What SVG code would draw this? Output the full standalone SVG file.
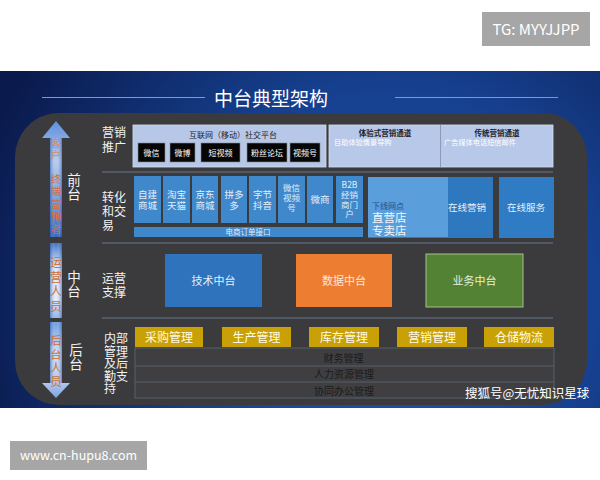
<svg xmlns="http://www.w3.org/2000/svg" width="600" height="480" viewBox="0 0 600 480">
<defs>
<radialGradient id="bg" cx="390" cy="300" r="430" gradientUnits="userSpaceOnUse">
<stop offset="0" stop-color="#2459bd"/>
<stop offset="0.5" stop-color="#16408f"/>
<stop offset="1" stop-color="#0a1a4c"/>
</radialGradient>
<linearGradient id="a1" x1="0" y1="0" x2="0" y2="1">
<stop offset="0" stop-color="#5d8fdc"/>
<stop offset="0.35" stop-color="#b6cbee"/>
<stop offset="0.7" stop-color="#6f98dc"/>
<stop offset="1" stop-color="#2f5fb8"/>
</linearGradient>
<linearGradient id="a2" x1="0" y1="0" x2="0" y2="1">
<stop offset="0" stop-color="#3a70c8"/>
<stop offset="0.3" stop-color="#dbe6f6"/>
<stop offset="0.75" stop-color="#e4ecf8"/>
<stop offset="1" stop-color="#8fb4e8"/>
</linearGradient>
<linearGradient id="a3" x1="0" y1="0" x2="0" y2="1">
<stop offset="0" stop-color="#6c9ce0"/>
<stop offset="0.4" stop-color="#d2e0f4"/>
<stop offset="0.8" stop-color="#b0c8ee"/>
<stop offset="1" stop-color="#7aa4e4"/>
</linearGradient>
<linearGradient id="sh" x1="0" y1="0" x2="1" y2="0">
<stop offset="0" stop-color="#1d4fae" stop-opacity="0.55"/>
<stop offset="0.5" stop-color="#ffffff" stop-opacity="0"/>
<stop offset="1" stop-color="#1d4fae" stop-opacity="0.55"/>
</linearGradient>
<style>
text{font-family:"Noto Sans CJK SC","Liberation Sans",sans-serif;}
.v{writing-mode:vertical-rl;}
.lbl{fill:#f2f2f2;font-size:12px;}
.big{fill:#f2f2f2;font-size:13.5px;letter-spacing:0.5px;}
.sep{stroke:#5a6572;stroke-width:1.5;}
.bb{fill:#3f88cc;}
.bt{fill:#e4edf8;font-size:9.5px;text-anchor:middle;}
.bs{fill:#e4edf8;font-size:8.5px;text-anchor:middle;}
.blk{fill:#060606;stroke:#8a8a8a;stroke-width:0.6;}
.wt{fill:#ffffff;font-size:8px;text-anchor:middle;}
.yb{fill:#c9a106;}
.yt{fill:#fffbe8;font-size:12px;text-anchor:middle;}
.tt{fill:#1a1a1a;font-size:10px;text-anchor:middle;}
.row{fill:none;stroke:#56606a;stroke-width:1;}
</style>
</defs>
<rect x="0" y="0" width="600" height="480" fill="#ffffff"/>
<rect x="0" y="71" width="600" height="337" fill="url(#bg)"/>

<g id="title">
<line x1="42" y1="97.5" x2="205" y2="97.5" stroke="#6d9de2" stroke-width="1.2"/>
<line x1="395" y1="97.5" x2="558" y2="97.5" stroke="#6d9de2" stroke-width="1.2"/>
<text x="271" y="106" fill="#ffffff" font-size="19" text-anchor="middle">中台典型架构</text>
</g>

<g id="panel">
<rect x="15" y="113" width="572" height="292" rx="44" ry="44" fill="#3b3b3d"/>
</g>

<g id="connectors">
<line class="sep" x1="102" y1="172" x2="553" y2="172"/>
<line class="sep" x1="102" y1="243" x2="553" y2="243"/>
<line class="sep" x1="102" y1="318" x2="553" y2="318"/>
</g>

<g id="arrow">
<path d="M56,121 L70,138 L62,138 L62,237 L50,237 L50,138 L42,138 Z" fill="url(#a1)"/>
<rect x="50" y="138" width="12" height="99" fill="url(#sh)"/>
<rect x="50" y="243" width="12" height="75" fill="url(#a2)"/>
<rect x="50" y="243" width="12" height="75" fill="url(#sh)"/>
<path d="M50,322 L62,322 L62,383 L70,383 L56,398 L42,383 L50,383 Z" fill="url(#a3)"/>
<rect x="50" y="322" width="12" height="61" fill="url(#sh)"/>
<text class="v" x="56" y="138" fill="#d88a6a" font-size="10.5" letter-spacing="1.5">客户</text>
<text class="v" x="56" y="173.5" fill="#d0703e" font-size="10.5" letter-spacing="2">终端营销者</text>
<text class="v" x="56" y="256.5" fill="#c8703a" font-size="12" letter-spacing="2.5">运营人员</text>
<text class="v" x="56" y="335" fill="#c8703a" font-size="11.5" letter-spacing="2">后台人员</text>
</g>

<g id="tiers">
<text class="big v" x="74" y="173">前台</text>
<text class="big v" x="74" y="270">中台</text>
<text class="big v" x="76" y="343">后台</text>
</g>

<g id="sections">
<text class="lbl" x="102" y="137">营销<tspan x="102" y="152">推广</tspan></text>
<text class="lbl" x="102" y="202">转化<tspan x="102" y="216">和交</tspan><tspan x="102" y="230">易</tspan></text>
<text class="lbl" x="102" y="283">运营<tspan x="102" y="297">支撑</tspan></text>
<text class="lbl" x="104" y="343" font-size="11">内部<tspan x="104" y="355.5">管理</tspan><tspan x="104" y="368">及后</tspan><tspan x="104" y="380.5">勤支</tspan><tspan x="104" y="393">持</tspan></text>
</g>

<g id="social">
<rect x="133" y="125" width="193" height="42" fill="#b6c7e8" stroke="#d4def2" stroke-width="0.8"/>
<text x="233" y="138" fill="#1e1e2a" font-size="8" text-anchor="middle">互联网（移动）社交平台</text>
<rect class="blk" x="138" y="143" width="27" height="19"/>
<text class="wt" x="151.5" y="155.5">微信</text>
<rect class="blk" x="170" y="143" width="25" height="19"/>
<text class="wt" x="182.5" y="155.5">微博</text>
<rect class="blk" x="201" y="143" width="39" height="19"/>
<text class="wt" x="220.5" y="155.5">短视频</text>
<rect class="blk" x="247" y="143" width="40" height="19"/>
<text class="wt" x="267" y="155.5">粉丝论坛</text>
<rect class="blk" x="290" y="143" width="30" height="19"/>
<text class="wt" x="305" y="155.5">视频号</text>
</g>

<g id="channels">
<rect x="329" y="125" width="224" height="42" fill="#b8c8e8" stroke="#d4def2" stroke-width="0.8"/>
<line x1="440.5" y1="125" x2="440.5" y2="167" stroke="#8a9ab8" stroke-width="1"/>
<text x="385" y="136" fill="#1e1e2a" font-size="7.5" font-weight="bold" text-anchor="middle">体验式营销通道</text>
<text x="334" y="145" fill="#ffffff" font-size="7.2">目助体验情景导购</text>
<text x="497" y="136" fill="#1e1e2a" font-size="7.5" font-weight="bold" text-anchor="middle">传统营销通道</text>
<text x="444" y="145" fill="#ffffff" font-size="7.2">广告媒体电话短信邮件</text>
</g>

<g id="ecommerce">
<rect class="bb" x="134" y="176" width="27" height="47"/>
<text class="bt" x="147.5" y="198">自建<tspan x="147.5" y="209">商城</tspan></text>
<rect class="bb" x="163" y="176" width="27" height="47"/>
<text class="bt" x="176.5" y="198">淘宝<tspan x="176.5" y="209">天猫</tspan></text>
<rect class="bb" x="192" y="176" width="26" height="47"/>
<text class="bt" x="205" y="198">京东<tspan x="205" y="209">商城</tspan></text>
<rect class="bb" x="221" y="176" width="26" height="47"/>
<text class="bt" x="234" y="198">拼多<tspan x="234" y="209">多</tspan></text>
<rect class="bb" x="249" y="176" width="27" height="47"/>
<text class="bt" x="262.5" y="198">字节<tspan x="262.5" y="209">抖音</tspan></text>
<rect class="bb" x="278" y="176" width="27" height="47"/>
<text class="bs" x="291.5" y="191">微信<tspan x="291.5" y="201">视频</tspan><tspan x="291.5" y="211">号</tspan></text>
<rect class="bb" x="307" y="176" width="26" height="47"/>
<text class="bt" x="320" y="203">微商</text>
<rect class="bb" x="336" y="176" width="27" height="47"/>
<text class="bs" x="349.5" y="188">B2B<tspan x="349.5" y="198">经销</tspan><tspan x="349.5" y="207.5">商门</tspan><tspan x="349.5" y="217">户</tspan></text>
<rect class="bb" x="134" y="227" width="229" height="10"/>
<text x="248" y="235" fill="#e4edf8" font-size="7.5" text-anchor="middle">电商订单接口</text>
</g>

<g id="offline">
<rect x="368" y="177" width="125" height="61" fill="#2e78c0"/>
<rect x="368" y="177" width="80" height="60" fill="#5a9edc"/>
<text x="372" y="209" fill="#1f4e8c" font-size="8">下线网点<tspan x="372" y="222" fill="#f4f8fc" font-size="11.5">直营店</tspan><tspan x="372" y="235" fill="#f4f8fc" font-size="11.5">专卖店</tspan></text>
<text x="467" y="210.5" fill="#e8f0f8" font-size="9.5" text-anchor="middle">在线营销</text>
</g>

<g id="online">
<rect x="499" y="177" width="55" height="61" fill="#2f7bc4"/>
<text x="526" y="210.5" fill="#e8f0f8" font-size="9.5" text-anchor="middle">在线服务</text>
</g>

<g id="middle">
<rect x="165" y="254" width="97" height="53" fill="#2f73bc"/>
<text x="213.5" y="285" fill="#e6eef8" font-size="11" text-anchor="middle">技术中台</text>
<rect x="296" y="254" width="96" height="53" fill="#ed7d31"/>
<text x="344" y="285" fill="#fde8d8" font-size="11" text-anchor="middle">数据中台</text>
<rect x="426" y="254" width="97" height="53" fill="#548235" stroke="#a8c08c" stroke-width="1"/>
<text x="474.5" y="285" fill="#e6f0dc" font-size="11" text-anchor="middle">业务中台</text>
</g>

<g id="backoffice">
<rect class="yb" x="135" y="327" width="68" height="20"/><text class="yt" x="169" y="341.5">采购管理</text>
<rect class="yb" x="222" y="327" width="69" height="20"/><text class="yt" x="256.5" y="341.5">生产管理</text>
<rect class="yb" x="309" y="327" width="70" height="20"/><text class="yt" x="344" y="341.5">库存管理</text>
<rect class="yb" x="397" y="327" width="70" height="20"/><text class="yt" x="432" y="341.5">营销管理</text>
<rect class="yb" x="484" y="327" width="70" height="20"/><text class="yt" x="519" y="341.5">仓储物流</text>
<rect x="135" y="348" width="419" height="50" fill="#3f3f42" stroke="#56606a" stroke-width="1"/>
<line class="row" x1="135" y1="366" x2="554" y2="366"/>
<line class="row" x1="135" y1="382" x2="554" y2="382"/>
<text class="tt" x="343.5" y="361.5">财务管理</text>
<text class="tt" x="344" y="378">人力资源管理</text>
<text class="tt" x="344" y="394.5">协同办公管理</text>
</g>

<g id="watermarks">
<text x="465" y="398" fill="#ffffff" font-size="12.5">搜狐号@无忧知识星球</text>
<rect x="482" y="12" width="108" height="34" fill="#a6a6a6"/>
<text x="536" y="34.5" fill="#ffffff" font-size="15" text-anchor="middle" font-family="DejaVu Sans, sans-serif">TG: MYYJJPP</text>
<rect x="10" y="441" width="137" height="29" fill="#a6a6a6"/>
<text x="78.5" y="460" fill="#ffffff" font-size="12.5" text-anchor="middle" font-family="DejaVu Sans, sans-serif">www.cn-hupu8.com</text>
</g>
</svg>
